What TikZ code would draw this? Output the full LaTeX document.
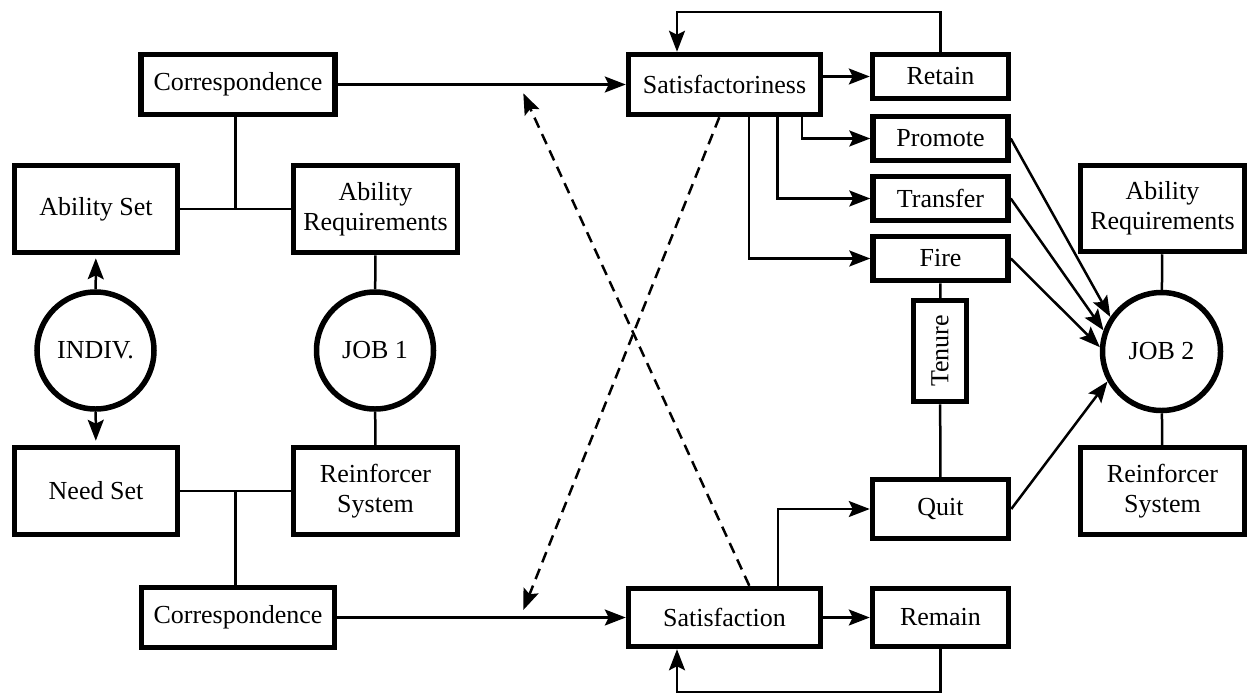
\documentclass[tikz,border=0pt]{standalone}
\usepackage{fontspec}
\setmainfont{Liberation Serif}
\usetikzlibrary{arrows.meta,calc}
\begin{document}
\begin{tikzpicture}[x=1pt,y=-1pt,
  font=\fontsize{26}{30}\selectfont,
  box/.style={draw,line width=5.5pt,inner sep=0pt,align=center},
  rnd/.style={draw,circle,line width=5.5pt,inner sep=0pt,minimum size=117pt},
  conn/.style={line width=2.5pt},
  arr/.style={conn,-{Stealth[length=21pt,width=16pt,inset=4pt]}},
  darr/.style={arr,dash pattern=on 11pt off 7pt}]
\useasboundingbox (0,0) rectangle (1247,694);
% left side
\node[box,minimum width=194pt,minimum height=60pt] (corrT) at (238,84.5) {Correspondence};
\node[box,minimum width=163pt,minimum height=87pt] (abset) at (96,209) {Ability Set};
\node[box,minimum width=164pt,minimum height=87pt] (abreqL) at (375.5,209) {Ability\\Requirements};
\node[rnd] (indiv) at (95.5,350.5) {INDIV.};
\node[rnd] (job1) at (375,350.5) {JOB 1};
\node[box,minimum width=163pt,minimum height=87pt] (needset) at (96,491) {Need Set};
\node[box,minimum width=164pt,minimum height=87pt] (reinfL) at (375.5,491) {Reinforcer\\System};
\node[box,minimum width=193pt,minimum height=60pt] (corrB) at (238,617.5) {Correspondence};
% middle
\node[box,minimum width=192pt,minimum height=60pt] (satf) at (724.5,84.5) {Satisfactoriness};
\node[box,minimum width=192pt,minimum height=58pt] (satn) at (724.5,617.5) {Satisfaction};
% right column
\node[box,minimum width=136pt,minimum height=44pt] (retain) at (940.5,76.5) {Retain};
\node[box,minimum width=135pt,minimum height=44pt] (promote) at (940.5,138.5) {Promote};
\node[box,minimum width=135pt,minimum height=44pt] (transfer) at (940.5,198.5) {Transfer};
\node[box,minimum width=135pt,minimum height=44pt] (fire) at (940.5,258.5) {Fire};
\node[box,minimum width=101pt,minimum height=53pt,rotate=90] (tenure) at (940,351) {Tenure};
\node[box,minimum width=136pt,minimum height=59pt] (quit) at (940.5,509) {Quit};
\node[box,minimum width=136pt,minimum height=58pt] (remain) at (940.5,617.5) {Remain};
% far right
\node[box,minimum width=164pt,minimum height=86pt] (abreqR) at (1162.5,208.5) {Ability\\Requirements};
\node[rnd,minimum size=118pt] (job2) at (1161.5,351.5) {JOB 2};
\node[box,minimum width=164pt,minimum height=87pt] (reinfR) at (1162.5,491) {Reinforcer\\System};
% helper coordinates
\coordinate (jt) at (235.5,209);
\coordinate (jb) at (235.5,491);
\coordinate (top) at (0,12);
\coordinate (bot) at (0,692);
\coordinate (d1e) at (523.3,610);
\coordinate (d2e) at (523.3,93.3);
% left connections
\draw[conn] (abset.east) -- (abreqL.west);
\draw[conn] (corrT.south -| jt) -- (jt);
\draw[conn] (needset.east) -- (reinfL.west);
\draw[conn] (jb) -- (corrB.north -| jb);
\draw[conn] (abreqL) -- (job1);
\draw[conn] (job1) -- (reinfL);
\draw[arr,shorten >=3pt] (indiv) -- (abset);
\draw[arr,shorten >=4pt] (indiv) -- (needset);
% correspondence arrows
\draw[arr] (corrT.east) -- (satf.west);
\draw[arr] (corrB.east) -- (satn.west);
% dashed
\draw[darr] ($(satf.south)+(-5.2,0)$) -- (d1e);
\draw[darr] ($(satn.north)+(24.8,0)$) -- (d2e);
% satisfactoriness outcomes
\draw[arr] (satf.east |- retain.west) -- (retain.west);
\draw[arr] ($(satf.south)+(77.5,0)$) |- (promote.west);
\draw[arr] ($(satf.south)+(53,0)$) |- (transfer.west);
\draw[arr] ($(satf.south)+(24.5,0)$) |- (fire.west);
\draw[arr] (retain.north) -- (retain.north |- top) -| ($(satf.north)+(-47.5,0)$);
% satisfaction outcomes
\draw[arr] (satn.east) -- (remain.west);
\draw[arr] ($(satn.north)+(53.5,0)$) |- (quit.west);
\draw[arr] (remain.south) -- (remain.south |- bot) -| ($(satn.south)+(-47.5,0)$);
% tenure
\draw[conn] (fire) -- (tenure);
\draw[conn] (tenure) -- (quit);
% to job 2
\draw[arr] (promote.east) -- (job2.146.6);
\draw[arr] (transfer.east) -- (job2.160.9);
\draw[arr] (fire.east) -- (job2.176);
\draw[arr] (quit.east) -- (job2.209.8);
\draw[conn] (job2) -- (abreqR);
\draw[conn] (job2) -- (reinfR);
\end{tikzpicture}
\end{document}
